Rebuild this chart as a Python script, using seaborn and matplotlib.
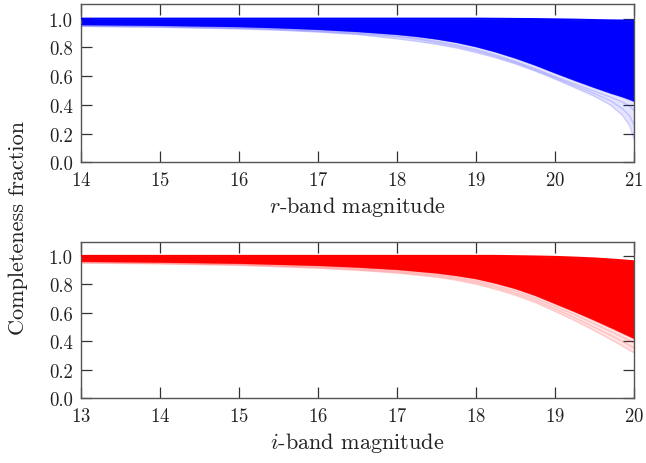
import numpy as np
import pandas as pd
import matplotlib
matplotlib.use("Agg")
import matplotlib.pyplot as plt
from matplotlib.ticker import FormatStrFormatter
import seaborn as sns

# ---------------- data ----------------
r_mag = [14, 15, 16, 16.5, 17, 17.5, 18, 18.25, 18.5, 18.75, 19, 19.25, 19.5,
         19.75, 20, 20.25, 20.5, 20.7, 20.85, 20.95, 21]
r_upper = [1.0, 1.0, 1.0, 1.0, 1.0, 1.0, 1.0, 1.0, 1.0, 1.0, 1.0, 0.999, 0.998,
           0.997, 0.995, 0.993, 0.99, 0.988, 0.987, 0.986, 0.985]
r_dense_lower = [0.958, 0.953, 0.944, 0.936, 0.925, 0.91, 0.89, 0.876, 0.858, 0.835,
                 0.805, 0.768, 0.725, 0.676, 0.622, 0.57, 0.52, 0.482, 0.456, 0.436, 0.425]
r_faint_1 = [0.954, 0.948, 0.938, 0.93, 0.918, 0.902, 0.88, 0.864, 0.843, 0.818,
             0.786, 0.747, 0.702, 0.652, 0.597, 0.545, 0.495, 0.455, 0.42, 0.39, 0.36]
r_faint_2 = [0.95, 0.944, 0.933, 0.925, 0.912, 0.896, 0.873, 0.857, 0.833, 0.808,
             0.776, 0.738, 0.694, 0.644, 0.589, 0.533, 0.478, 0.43, 0.375, 0.32, 0.26]
r_faint_3 = [0.946, 0.94, 0.929, 0.92, 0.907, 0.89, 0.86, 0.843, 0.822, 0.797,
             0.765, 0.728, 0.685, 0.635, 0.58, 0.52, 0.46, 0.4, 0.33, 0.25, 0.16]

i_mag = [13, 14, 15, 16, 16.5, 17, 17.5, 17.75, 18, 18.25, 18.5, 18.75, 19,
         19.25, 19.5, 19.75, 20]
i_upper = [1.0, 1.0, 1.0, 1.0, 1.0, 1.0, 1.0, 1.0, 1.0, 1.0, 0.998, 0.996, 0.993,
           0.988, 0.982, 0.973, 0.962]
i_dense_lower = [0.962, 0.956, 0.948, 0.933, 0.921, 0.905, 0.88, 0.862, 0.84, 0.808,
                 0.77, 0.722, 0.665, 0.608, 0.548, 0.485, 0.42]
i_faint_1 = [0.958, 0.952, 0.943, 0.926, 0.913, 0.896, 0.869, 0.85, 0.826, 0.792,
             0.753, 0.704, 0.646, 0.587, 0.523, 0.458, 0.39]
i_faint_2 = [0.954, 0.948, 0.938, 0.92, 0.906, 0.888, 0.86, 0.84, 0.814, 0.779,
             0.738, 0.688, 0.628, 0.566, 0.498, 0.43, 0.355]
i_faint_3 = [0.95, 0.944, 0.934, 0.914, 0.899, 0.88, 0.851, 0.83, 0.802, 0.766,
             0.724, 0.673, 0.611, 0.546, 0.475, 0.4, 0.32]

r_xticks = [14, 15, 16, 17, 18, 19, 20, 21]
i_xticks = [13, 14, 15, 16, 17, 18, 19, 20]
y_ticks = [0.0, 0.2, 0.4, 0.6, 0.8, 1.0]

# ---------------- style ----------------
sns.set_style("ticks")
plt.rcParams.update({
    "font.family": "serif",
    "font.serif": ["cmr10"],
    "mathtext.fontset": "cm",
    "axes.formatter.use_mathtext": True,
    "axes.unicode_minus": False,
    "xtick.direction": "in",
    "ytick.direction": "in",
    "xtick.top": True,
    "ytick.right": True,
    "xtick.major.size": 8,
    "ytick.major.size": 8,
    "xtick.major.width": 0.9,
    "ytick.major.width": 0.9,
    "axes.edgecolor": "#555555",
    "axes.linewidth": 1.0,
    "xtick.color": "#333333",
    "ytick.color": "#333333",
})

fig = plt.figure(figsize=(6.46, 4.64), dpi=100)
ax1 = fig.add_axes([0.1254, 0.648, 0.856, 0.3406])
ax2 = fig.add_axes([0.1254, 0.1394, 0.856, 0.3376])


def draw_panel(ax, mag, upper, dense, faints, color, xticks, xlabel):
    ax.fill_between(mag, dense, upper, color=color, linewidth=0, zorder=2)
    rows = []
    for k, f in enumerate(faints):
        for m, v in zip(mag, f):
            rows.append({"mag": m, "comp": v, "curve": k})
    df = pd.DataFrame(rows)
    sns.lineplot(data=df, x="mag", y="comp", units="curve", estimator=None,
                 color=color, alpha=0.15, linewidth=1.1, ax=ax, zorder=1)
    ax.fill_between(mag, faints[-1], dense, color=color, alpha=0.10,
                    linewidth=0, zorder=1)
    env = pd.DataFrame({"mag": mag, "up": upper, "lo": dense})
    sns.lineplot(data=env, x="mag", y="up", color=color, linewidth=1.5, ax=ax, zorder=3)
    sns.lineplot(data=env, x="mag", y="lo", color=color, linewidth=1.0, alpha=0.5, ax=ax, zorder=3)
    ax.set_xlim(xticks[0], xticks[-1])
    ax.set_ylim(0, 1.1)
    ax.set_xticks(xticks)
    ax.set_yticks(y_ticks)
    ax.yaxis.set_major_formatter(FormatStrFormatter("%.1f"))
    ax.tick_params(labelsize=13.5, labelcolor="#222222", pad=6)
    ax.set_xlabel(xlabel, fontsize=16, color="#222222", labelpad=4)
    ax.set_ylabel("")


draw_panel(ax1, r_mag, r_upper, r_dense_lower,
           [r_faint_1, r_faint_2, r_faint_3], "#0000ff", r_xticks,
           r"$r$-band magnitude")
draw_panel(ax2, i_mag, i_upper, i_dense_lower,
           [i_faint_1, i_faint_2, i_faint_3], "#ff0000", i_xticks,
           r"$i$-band magnitude")

fig.text(0.028, 0.509, "Completeness fraction", rotation=90, ha="center",
         va="center", fontsize=16, color="#222222")

fig.savefig("out.png", dpi=100)
